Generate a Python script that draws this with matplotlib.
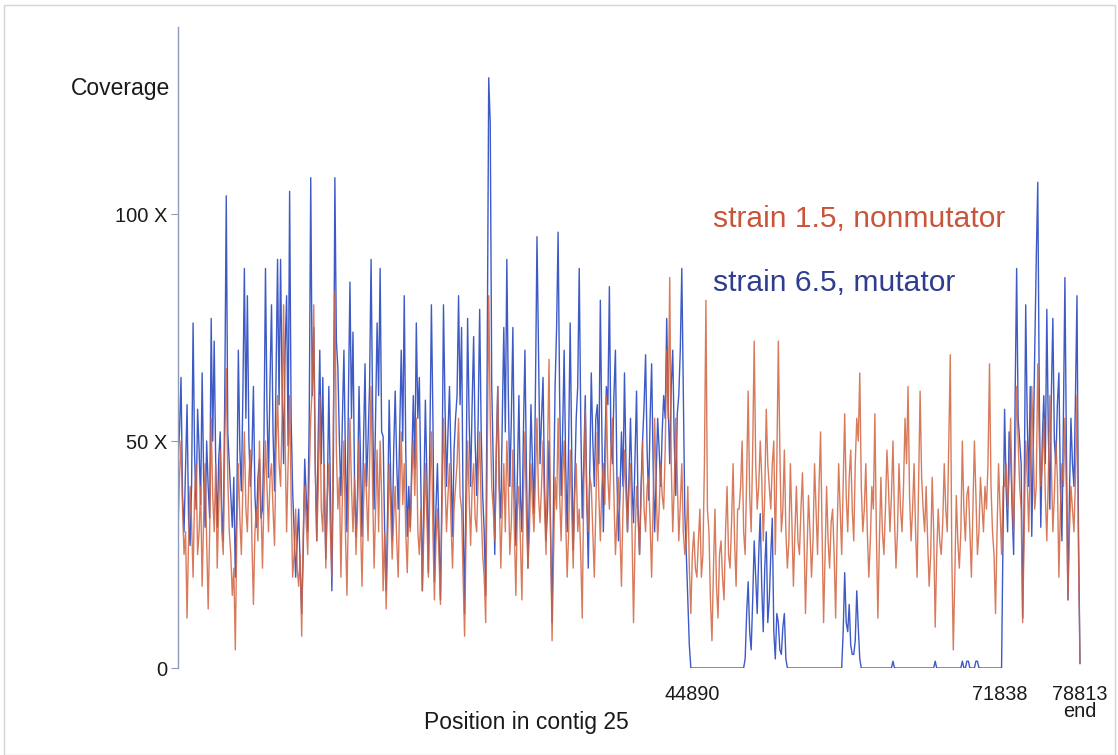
import numpy as np
import matplotlib
matplotlib.use("Agg")
import matplotlib.pyplot as plt
from matplotlib.patches import Rectangle

plt.rcParams['font.family'] = ['Liberation Sans', 'DejaVu Sans']

# Contig 25: read coverage in evenly spaced windows along the contig
contig_length = 78813
marked_positions = [44890, 71838, 78813]
marked_labels = ["44890", "71838", "78813\nend"]
y_ticks = [0, 50, 100]
y_tick_labels = ["0", "50 X", "100 X"]

coverage_mutator = [
    45, 52, 64, 38, 30, 44, 58, 33, 27, 40, 76, 47, 35, 57, 48, 36, 65, 42, 31, 50,
    40, 33, 77, 50, 72, 45, 31, 46, 52, 35, 28, 60, 104, 52, 45, 38, 31, 42, 20, 36,
    70, 48, 39, 60, 88, 55, 82, 50, 40, 47, 62, 38, 31, 42, 46, 33, 35, 51, 88, 57,
    42, 63, 80, 52, 39, 65, 90, 58, 90, 62, 45, 70, 82, 49, 105, 55, 39, 30, 20, 28,
    35, 22, 12, 25, 46, 38, 30, 55, 108, 60, 75, 44, 28, 52, 70, 45, 64, 40, 24, 38,
    62, 40, 17, 45, 108, 72, 66, 50, 38, 55, 70, 46, 30, 60, 85, 55, 74, 42, 29, 38,
    62, 45, 29, 50, 67, 40, 50, 62, 90, 58, 35, 55, 76, 60, 88, 52, 51, 30, 17, 35,
    59, 42, 28, 48, 61, 45, 35, 52, 70, 50, 82, 48, 29, 40, 31, 46, 60, 44, 76, 55,
    64, 40, 17, 38, 59, 42, 21, 50, 80, 55, 19, 35, 45, 30, 15, 40, 80, 58, 40, 52,
    62, 45, 29, 48, 55, 60, 82, 58, 75, 35, 12, 42, 77, 55, 40, 58, 73, 50, 38, 55,
    79, 52, 38, 30, 16, 68, 130, 120, 62, 45, 25, 48, 62, 40, 33, 55, 75, 52, 90, 60,
    40, 55, 75, 45, 27, 42, 60, 38, 30, 52, 70, 44, 22, 40, 58, 45, 34, 62, 95, 70,
    45, 55, 64, 40, 28, 35, 50, 30, 10, 38, 62, 75, 96, 60, 38, 52, 70, 45, 30, 50,
    76, 48, 26, 40, 55, 62, 88, 55, 33, 45, 60, 38, 22, 44, 65, 50, 40, 55, 58, 45,
    81, 52, 30, 48, 62, 58, 84, 50, 45, 60, 70, 42, 28, 38, 52, 40, 65, 45, 30, 42,
    55, 40, 32, 46, 61, 35, 25, 40, 50, 58, 69, 48, 37, 55, 67, 45, 30, 42, 55, 48,
    40, 52, 60, 55, 77, 58, 45, 62, 70, 50, 38, 56, 60, 70, 88, 60, 34, 25, 15, 5,
    0, 0, 0, 0, 0, 0, 0, 0, 0, 0, 0, 0, 0, 0, 0, 0, 0, 0, 0, 0,
    0, 0, 0, 0, 0, 0, 0, 0, 0, 0, 0, 0, 0, 0, 0, 0, 2, 12, 19, 8,
    4, 15, 28, 20, 12, 25, 34, 18, 8, 22, 30, 10, 15, 25, 33, 8, 2, 12, 10, 4,
    3, 9, 12, 2, 0, 0, 0, 0, 0, 0, 0, 0, 0, 0, 0, 0, 0, 0, 0, 0,
    0, 0, 0, 0, 0, 0, 0, 0, 0, 0, 0, 0, 0, 0, 0, 0, 0, 0, 0, 0,
    0, 8, 21, 10, 8, 14, 5, 3, 3, 6, 17, 9, 2, 0, 0, 0, 0, 0, 0, 0,
    0, 0, 0, 0, 0, 0, 0, 0, 0, 0, 0, 0, 0, 0, 1.5, 0, 0, 0, 0, 0,
    0, 0, 0, 0, 0, 0, 0, 0, 0, 0, 0, 0, 0, 0, 0, 0, 0, 0, 0, 0,
    0, 0, 1.5, 0, 0, 0, 0, 0, 0, 0, 0, 0, 0, 0, 0, 0, 0, 0, 0, 0,
    1.5, 0, 0, 1.5, 1.5, 0, 0, 0, 0, 1.5, 1.5, 0, 0, 0, 0, 0, 0, 0, 0, 0,
    0, 0, 0, 0, 0, 0, 0, 30, 57, 40, 30, 52, 48, 35, 25, 60, 88, 55, 50, 45,
    11, 38, 80, 55, 40, 62, 29, 48, 70, 90, 107, 60, 31, 50, 60, 45, 79, 52, 35, 60,
    77, 50, 45, 58, 65, 40, 28, 55, 86, 48, 15, 38, 55, 45, 40, 60, 82, 30, 1,
]

coverage_nonmutator = [
    30, 42, 50, 35, 25, 30, 11, 28, 40, 32, 20, 38, 45, 25, 30, 40, 18, 33, 45, 28,
    13, 30, 55, 38, 30, 45, 22, 35, 48, 30, 25, 50, 66, 42, 30, 25, 16, 22, 4, 30,
    45, 33, 25, 40, 52, 35, 30, 42, 48, 28, 14, 30, 35, 28, 50, 36, 22, 38, 50, 40,
    30, 42, 45, 35, 27, 48, 60, 45, 40, 55, 80, 50, 30, 45, 60, 38, 20, 25, 35, 22,
    18, 25, 7, 30, 40, 32, 25, 42, 55, 62, 80, 45, 28, 40, 60, 35, 30, 45, 22, 38,
    45, 30, 20, 55, 83, 48, 35, 42, 20, 38, 50, 30, 16, 35, 55, 40, 30, 42, 25, 35,
    50, 32, 18, 36, 45, 38, 28, 45, 62, 40, 22, 35, 48, 30, 50, 38, 17, 30, 13, 28,
    45, 35, 24, 33, 40, 28, 20, 38, 52, 36, 45, 30, 21, 35, 30, 42, 50, 38, 55, 30,
    25, 35, 17, 30, 45, 33, 20, 40, 52, 30, 15, 28, 35, 25, 14, 35, 55, 42, 30, 38,
    45, 32, 22, 35, 40, 45, 55, 38, 35, 20, 7, 30, 50, 38, 27, 40, 45, 33, 30, 42,
    52, 35, 25, 20, 10, 45, 82, 55, 40, 35, 28, 45, 62, 38, 22, 35, 45, 30, 50, 40,
    25, 32, 48, 30, 16, 35, 40, 28, 15, 38, 52, 33, 22, 30, 45, 36, 30, 42, 55, 38,
    32, 40, 50, 35, 25, 48, 68, 30, 6, 25, 42, 35, 55, 38, 28, 42, 50, 33, 20, 30,
    48, 35, 22, 38, 45, 30, 35, 25, 11, 40, 57, 36, 30, 42, 40, 30, 20, 35, 52, 38,
    28, 40, 45, 36, 60, 42, 35, 48, 55, 38, 25, 33, 42, 30, 18, 35, 48, 38, 30, 40,
    45, 30, 10, 28, 40, 33, 25, 38, 50, 35, 30, 40, 42, 32, 20, 36, 55, 40, 28, 35,
    45, 38, 35, 48, 70, 55, 86, 45, 30, 40, 55, 42, 28, 36, 45, 30, 25, 28, 40, 22,
    12, 25, 30, 22, 20, 28, 35, 20, 25, 45, 81, 35, 30, 15, 6, 22, 35, 18, 11, 25,
    28, 20, 15, 30, 40, 25, 22, 32, 45, 28, 18, 35, 35, 40, 50, 30, 25, 42, 61, 38,
    30, 48, 72, 45, 35, 40, 50, 42, 28, 38, 57, 45, 40, 35, 45, 50, 25, 45, 72, 48,
    30, 35, 48, 30, 22, 28, 45, 32, 18, 30, 40, 28, 25, 35, 43, 30, 12, 25, 38, 30,
    20, 28, 45, 35, 25, 40, 52, 30, 10, 25, 40, 28, 22, 32, 35, 25, 11, 30, 45, 35,
    25, 40, 56, 38, 30, 42, 48, 35, 28, 45, 55, 50, 65, 40, 30, 35, 45, 30, 20, 28,
    40, 35, 56, 30, 11, 28, 42, 30, 25, 35, 48, 40, 30, 38, 50, 33, 22, 30, 45, 35,
    30, 40, 55, 45, 62, 38, 28, 35, 45, 30, 20, 40, 61, 42, 35, 30, 40, 28, 18, 25,
    42, 30, 9, 25, 35, 28, 25, 32, 45, 35, 30, 50, 69, 25, 4, 20, 38, 28, 22, 30,
    50, 35, 28, 38, 40, 30, 20, 35, 50, 38, 25, 30, 42, 36, 30, 40, 35, 45, 67, 40,
    30, 25, 12, 30, 45, 35, 25, 40, 40, 45, 35, 42, 55, 38, 30, 45, 62, 50, 40, 35,
    10, 30, 50, 42, 30, 45, 62, 48, 35, 40, 67, 50, 40, 45, 55, 38, 28, 42, 60, 45,
    30, 38, 50, 42, 20, 35, 45, 40, 55, 38, 15, 30, 40, 35, 30, 42, 60, 25, 1,
]

blue = "#3d5ac6"
red = "#d2633f"

W, H = 1118, 755
fig = plt.figure(figsize=(W / 100, H / 100), dpi=100)

# axes box in pixel terms
left, right, top, bottom = 178, 1100, 27, 668
ax = fig.add_axes([left / W, 1 - bottom / H, (right - left) / W, (bottom - top) / H])

px_per_bp = (1080 - left) / contig_length
xmax = (right - left) / px_per_bp
ymax = (bottom - top) / 4.54

pos_m = np.linspace(0, contig_length, len(coverage_mutator))
pos_n = np.linspace(0, contig_length, len(coverage_nonmutator))

ax.plot(pos_m, coverage_mutator, color=blue, lw=1.0)
ax.plot(pos_n, coverage_nonmutator, color=red, lw=1.0, alpha=0.85)

ax.set_xlim(0, xmax)
ax.set_ylim(0, ymax)

for s in ["top", "right", "bottom"]:
    ax.spines[s].set_visible(False)
ax.spines["left"].set_color("#8f9bb8")
ax.spines["left"].set_linewidth(1.0)

ax.set_xticks([])
ax.set_yticks(y_ticks)
ax.set_yticklabels(y_tick_labels, fontsize=14.5, color="#1a1a1a")
ax.tick_params(axis="y", length=5, width=0.8, color="#8f9bb8", pad=3)

# marked contig positions below the track
for p, lab in zip(marked_positions, marked_labels):
    ax.text(p, -3.8, lab, ha="center", va="top", fontsize=14.3,
            color="#1a1a1a", linespacing=0.85, clip_on=False)

fig.text(526 / W, 1 - 722 / H, "Position in contig 25", ha="center", va="center",
         fontsize=16.5, color="#1a1a1a")
fig.text(170 / W, 1 - 88 / H, "Coverage", ha="right", va="center",
         fontsize=16.5, color="#1a1a1a")

fig.text(713 / W, 1 - 219 / H, "strain 1.5, nonmutator", ha="left", va="center",
         fontsize=21.6, color="#c8553a")
fig.text(713 / W, 1 - 283 / H, "strain 6.5, mutator", ha="left", va="center",
         fontsize=21.6, color="#2e3d8f")

# thin frame around the figure
fig.patches.append(Rectangle((4 / W, 0), (1115 - 4) / W, 1 - 5 / H,
                             transform=fig.transFigure, fill=False,
                             edgecolor="#d5d5d5", lw=1))

fig.savefig("out.png", dpi=100)
